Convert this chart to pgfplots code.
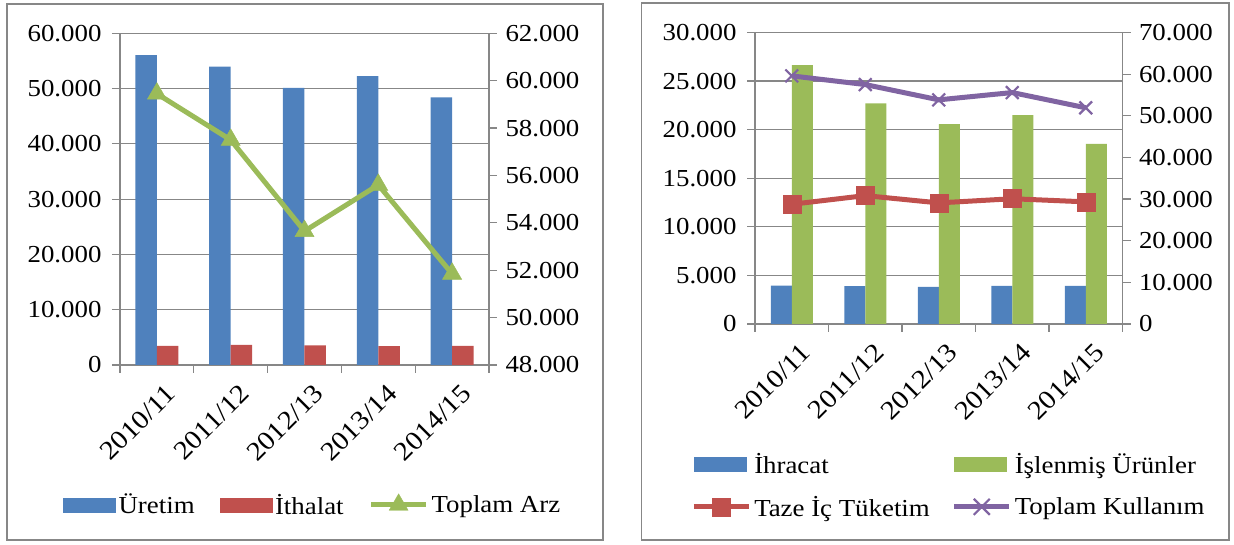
\documentclass[border=0pt]{standalone}
\usepackage{fontspec}
\setmainfont{Liberation Serif}[FakeStretch=1.1]
\usepackage{pgfplots}
\pgfplotsset{compat=1.18}
\definecolor{cBlue}{HTML}{4F81BD}
\definecolor{cRed}{HTML}{C0504D}
\definecolor{cGreen}{HTML}{9BBB59}
\definecolor{cPurple}{HTML}{8064A2}
\definecolor{cGrid}{HTML}{878787}
\newcommand{\tickfont}{\fontsize{24.5}{26}\selectfont}
\newcommand{\xtickfont}{\fontsize{26.5}{28}\selectfont}
\newcommand{\legfont}{\fontsize{24.5}{26}\selectfont}
\pgfplotsset{
  common/.style={
    scale only axis,
    xmin=-0.5, xmax=4.5,
    tick align=outside,
    major tick length=8bp,
    tick style={draw=cGrid, line width=1.2bp},
    axis line style={draw=cGrid, line width=1.3bp},
    ticklabel style={font=\tickfont},
    /pgf/number format/assume math mode=true,
    /pgf/number format/1000 sep={.},
    scaled y ticks=false,
  },
  mainaxis/.style={
    common,
    ymajorgrids,
    major grid style={draw=cGrid, line width=1.2bp},
    ytick pos=left,
    xtick pos=bottom,
    xtick={-0.5,0.5,1.5,2.5,3.5,4.5},
    xticklabels={,,,,,},
    extra x ticks={0,1,2,3,4},
    extra x tick labels={2010/11,2011/12,2012/13,2013/14,2014/15},
    extra x tick style={major tick length=0pt},
    xticklabel style={font=\xtickfont, rotate=45, anchor=north east, inner sep=0pt, xshift=-7bp, yshift=-18bp},
    yticklabel style={xshift=-7bp},
  },
  secaxis/.style={
    common,
    axis y line*=right,
    axis x line=none,
    yticklabel style={xshift=5bp},
  },
}
\begin{document}
\begin{tikzpicture}
\path[use as bounding box] (0bp,0bp) rectangle (1234bp,545bp);
\draw[cGrid, line width=1.3bp] (7bp,5bp) rectangle (603bp,541bp);
\draw[cGrid, line width=1.3bp] (641.5bp,5bp) rectangle (1229bp,542bp);

% ---------------- Left chart ----------------
\begin{axis}[mainaxis,
  at={(120bp,180bp)}, anchor=south west,
  width=369bp, height=331.7bp,
  ymin=0, ymax=60000, ytick distance=10000,
  ybar=0pt, bar width=21.5bp]
\addplot[fill=cBlue, draw=none] coordinates {(0,56050) (1,53950) (2,50150) (3,52250) (4,48400)};
\addplot[fill=cRed, draw=none] coordinates {(0,3450) (1,3650) (2,3550) (3,3400) (4,3450)};
\end{axis}
\begin{axis}[secaxis,
  at={(120bp,180bp)}, anchor=south west,
  width=369bp, height=331.7bp,
  ymin=48000, ymax=62000, ytick distance=2000,
  legend columns=3,
  legend style={at={(-0.1545,-0.421)}, anchor=west, draw=none, fill=none, inner sep=0pt,
    font=\legfont, nodes={inner xsep=3bp, inner ysep=0bp},
    /tikz/every even column/.append style={column sep=22bp}}]
\addlegendimage{legend image code/.code={\fill[cBlue] (0bp,-7bp) rectangle (52bp,7bp);}}
\addlegendentry{Üretim}
\addlegendimage{legend image code/.code={\fill[cRed] (0bp,-7bp) rectangle (52bp,7bp);}}
\addlegendentry{İthalat}
\addlegendimage{legend image code/.code={\draw[cGreen, line width=5bp] (0bp,0bp) -- (55bp,0bp);
   \fill[cGreen] (27.5bp,0bp) ++(90:11bp) -- ++(-120:19bp) -- ++(0:19bp) -- cycle;}}
\addlegendentry{Toplam Arz}
\addplot[forget plot, cGreen, line width=5bp, mark=triangle*, mark size=11bp,
  mark options={line width=0.5bp, fill=cGreen}]
  coordinates {(0,59450) (1,57500) (2,53650) (3,55600) (4,51850)};
\end{axis}

% ---------------- Right chart ----------------
\begin{axis}[mainaxis,
  at={(755bp,221bp)}, anchor=south west,
  width=367.5bp, height=291.5bp,
  ymin=0, ymax=30000, ytick distance=5000,
  ybar=0pt, bar width=21bp]
\addplot[fill=cBlue, draw=none] coordinates {(0,3960) (1,3890) (2,3820) (3,3930) (4,3930)};
\addplot[fill=cGreen, draw=none] coordinates {(0,26640) (1,22710) (2,20570) (3,21500) (4,18540)};
\end{axis}
\begin{axis}[secaxis,
  at={(755bp,221bp)}, anchor=south west,
  width=367.5bp, height=291.5bp,
  ymin=0, ymax=70000, ytick distance=10000,
  legend columns=2,
  legend style={at={(-0.174,-0.554)}, anchor=west, draw=none, fill=none, inner sep=0pt,
    font=\legfont, nodes={inner xsep=3bp, inner ysep=0bp}, row sep=21bp,
    /tikz/every even column/.append style={column sep=19bp}},
  legend cell align=left]
\addlegendimage{legend image code/.code={\fill[cBlue] (0bp,-7bp) rectangle (52bp,7bp);}}
\addlegendentry{İhracat}
\addlegendimage{legend image code/.code={\fill[cGreen] (0bp,-7bp) rectangle (52bp,7bp);}}
\addlegendentry{İşlenmiş Ürünler}
\addlegendimage{legend image code/.code={\draw[cRed, line width=5bp] (0bp,0bp) -- (55bp,0bp);
   \fill[cRed] (18.5bp,-9bp) rectangle (36.5bp,9bp);}}
\addlegendentry{Taze İç Tüketim}
\addlegendimage{legend image code/.code={\draw[cPurple, line width=5bp] (0bp,0bp) -- (55bp,0bp);
   \draw[cPurple, line width=2.2bp] (19.5bp,-8bp) -- (35.5bp,8bp) (19.5bp,8bp) -- (35.5bp,-8bp);}}
\addlegendentry{Toplam Kullanım}
\addplot[forget plot, cRed, line width=5bp, mark=square*, mark size=9bp,
  mark options={line width=0.5bp, fill=cRed}]
  coordinates {(0,28750) (1,30830) (2,29080) (3,30080) (4,29330)};
\addplot[forget plot, cPurple, line width=5bp, mark=x, mark size=9bp,
  mark options={line width=2.2bp}]
  coordinates {(0,59580) (1,57500) (2,53830) (3,55580) (4,51920)};
\end{axis}
\end{tikzpicture}
\end{document}
